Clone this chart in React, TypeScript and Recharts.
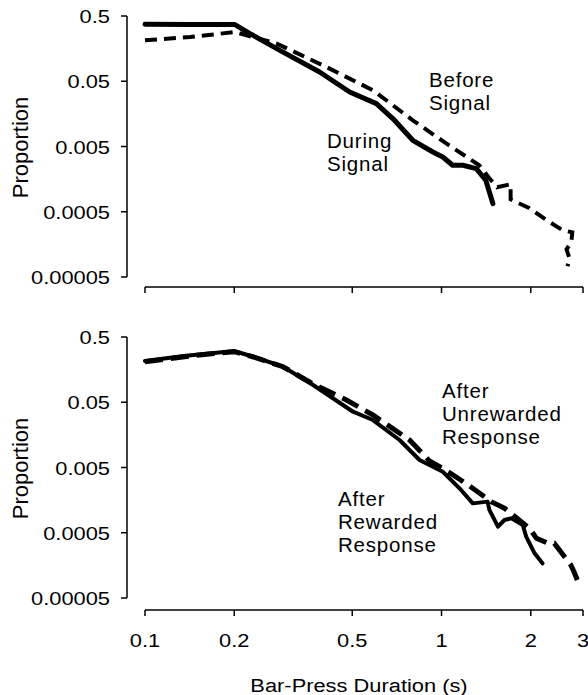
import { LineChart, Line, XAxis, YAxis } from "recharts";

const FONT = '"Liberation Sans", Arial, sans-serif';

const X_TICKS = [0.1, 0.2, 0.5, 1, 2, 3];
const X_TICK_LABELS = ["0.1", "0.2", "0.5", "1", "2", "3"];
const Y_TICKS = [0.5, 0.05, 0.005, 0.0005, 0.00005];
const Y_TICK_LABELS = ["0.5", "0.05", "0.005", "0.0005", "0.00005"];

// top panel - during signal (solid)
const duringX = [0.1, 0.142, 0.201, 0.226, 0.285, 0.388, 0.49, 0.603, 0.685, 0.8, 0.935, 1.01, 1.09, 1.18, 1.31, 1.41, 1.49];
const duringY = [0.373, 0.369, 0.369, 0.269, 0.149, 0.0693, 0.0342, 0.0227, 0.0134, 0.00622, 0.00412, 0.00345, 0.00258, 0.00258, 0.00229, 0.00152, 0.000667];

// top panel - before signal (dashed)
const beforeX = [0.1, 0.142, 0.201, 0.278, 0.409, 0.588, 0.8, 1.04, 1.34, 1.45, 1.54, 1.71, 1.71, 1.98, 2.24, 2.56, 2.76, 2.74, 2.64, 2.7, 2.66];
const beforeY = [0.212, 0.238, 0.284, 0.189, 0.0827, 0.0363, 0.0126, 0.00553, 0.00258, 0.00163, 0.00119, 0.00132, 0.000776, 0.000565, 0.000383, 0.00026, 0.000242, 0.00017, 0.000133, 0.0000968, 0.000073];

// bottom panel - after rewarded response (solid)
const rewardedX = [0.1, 0.135, 0.2, 0.232, 0.292, 0.369, 0.503, 0.587, 0.722, 0.843, 0.935, 1.01, 1.15, 1.275, 1.43, 1.45, 1.55, 1.63, 1.72, 1.88, 1.93, 2.06, 2.19];
const rewardedY = [0.214, 0.256, 0.305, 0.249, 0.175, 0.0919, 0.0358, 0.0267, 0.0132, 0.00652, 0.00514, 0.00431, 0.0024, 0.00141, 0.0015, 0.00112, 0.00062, 0.000784, 0.000832, 0.000658, 0.000435, 0.000242, 0.00017];

// bottom panel - after unrewarded response (dashed)
const unrewardedX = [0.1, 0.142, 0.2, 0.232, 0.292, 0.369, 0.478, 0.587, 0.78, 0.911, 1.01, 1.23, 1.47, 1.63, 1.98, 2.09, 2.28, 2.4, 2.73, 2.8, 2.87];
const unrewardedY = [0.209, 0.256, 0.298, 0.247, 0.175, 0.0952, 0.0541, 0.0319, 0.0132, 0.00629, 0.00486, 0.0027, 0.0015, 0.00119, 0.000585, 0.000411, 0.000348, 0.000345, 0.00016, 0.000125, 0.0000944];

const zip = (xs: number[], ys: number[]) => xs.map((x, i) => ({ x, y: ys[i] }));

// axes are drawn detached from the plot (R style): y axis 18px left, x axis ~10px down
const Y_SHIFT = 18;

function YTick({ x, y, payload }: any) {
  const i = Y_TICKS.indexOf(payload.value);
  const label = i >= 0 ? Y_TICK_LABELS[i] : String(payload.value);
  return (
    <text
      transform={`translate(${x - Y_SHIFT},${y}) scale(1.15,1)`}
      textAnchor="end"
      dy={7}
      fontSize={19}
      fontFamily={FONT}
      fill="#000"
    >
      {label}
    </text>
  );
}

function XTick({ x, y, payload }: any) {
  const i = X_TICKS.indexOf(payload.value);
  const label = i >= 0 ? X_TICK_LABELS[i] : String(payload.value);
  return (
    <text
      transform={`translate(${x},${y + 12}) scale(1.15,1)`}
      textAnchor="middle"
      dy={29}
      fontSize={19}
      fontFamily={FONT}
      fill="#000"
    >
      {label}
    </text>
  );
}

const NoTick = () => <g />;

const yTitle = (props: any) => {
  const vb = props.viewBox || {};
  const cy = (vb.y ?? 16) + (vb.height ?? 261) / 2;
  return (
    <text
      transform={`translate(28,${cy + 1}) rotate(-90)`}
      textAnchor="middle"
      fontSize={22}
      fontFamily={FONT}
      fill="#000"
    >
      Proportion
    </text>
  );
};

const xTitle = () => (
  <text
    transform="translate(359,371) scale(1.15,1)"
    textAnchor="middle"
    fontSize={19}
    fontFamily={FONT}
    fill="#000"
  >
    Bar-Press Duration (s)
  </text>
);

const css = `
.panel .recharts-yAxis .recharts-cartesian-axis-line,
.panel .recharts-yAxis .recharts-cartesian-axis-ticks { transform: translateX(-${Y_SHIFT}px); }
.panel-top .recharts-xAxis .recharts-cartesian-axis-line,
.panel-top .recharts-xAxis .recharts-cartesian-axis-ticks { transform: translateY(10px); }
.panel-bottom .recharts-xAxis .recharts-cartesian-axis-line,
.panel-bottom .recharts-xAxis .recharts-cartesian-axis-ticks { transform: translateY(12px); }
`;

const note: React.CSSProperties = {
  position: "absolute",
  fontFamily: FONT,
  fontSize: 20.5,
  letterSpacing: 0.8,
  lineHeight: "23px",
  color: "#000",
  whiteSpace: "nowrap",
};

const axisLine = { stroke: "#000", strokeWidth: 1.5 };

export default function App() {
  return (
    <div style={{ position: "absolute", left: 0, top: 0, width: 588, height: 695, background: "#fff" }}>
      <style>{css}</style>

      <div className="panel panel-top" style={{ position: "absolute", left: 0, top: 0 }}>
        <LineChart width={588} height={300} margin={{ top: 16, right: 5, bottom: 3, left: 0 }}>
          <XAxis
            dataKey="x"
            type="number"
            scale="log"
            domain={[0.1, 3]}
            ticks={X_TICKS}
            interval={0}
            height={20}
            tick={NoTick}
            tickSize={6}
            axisLine={axisLine}
            tickLine={axisLine}
          />
          <YAxis
            type="number"
            scale="log"
            domain={[0.00005, 0.5]}
            ticks={Y_TICKS}
            interval={0}
            width={145}
            tick={YTick}
            tickSize={6}
            tickMargin={11}
            axisLine={axisLine}
            tickLine={axisLine}
            label={{ content: yTitle }}
          />
          <Line
            data={zip(beforeX, beforeY)}
            dataKey="y"
            type="linear"
            stroke="#000"
            strokeWidth={4}
            strokeDasharray="12 7"
            dot={false}
            isAnimationActive={false}
          />
          <Line
            data={zip(duringX, duringY)}
            dataKey="y"
            type="linear"
            stroke="#000"
            strokeWidth={5}
            strokeLinejoin="round"
            strokeLinecap="round"
            dot={false}
            isAnimationActive={false}
          />
        </LineChart>
      </div>

      <div className="panel panel-bottom" style={{ position: "absolute", left: 0, top: 321 }}>
        <LineChart width={588} height={374} margin={{ top: 16, right: 5, bottom: 0, left: 0 }}>
          <XAxis
            dataKey="x"
            type="number"
            scale="log"
            domain={[0.1, 3]}
            ticks={X_TICKS}
            interval={0}
            height={97}
            tick={XTick}
            tickSize={6}
            tickMargin={2}
            axisLine={axisLine}
            tickLine={axisLine}
            label={{ content: xTitle }}
          />
          <YAxis
            type="number"
            scale="log"
            domain={[0.00005, 0.5]}
            ticks={Y_TICKS}
            interval={0}
            width={145}
            tick={YTick}
            tickSize={6}
            tickMargin={11}
            axisLine={axisLine}
            tickLine={axisLine}
            label={{ content: yTitle }}
          />
          <Line
            data={zip(unrewardedX, unrewardedY)}
            dataKey="y"
            type="linear"
            stroke="#000"
            strokeWidth={5}
            strokeDasharray="18 8"
            dot={false}
            isAnimationActive={false}
          />
          <Line
            data={zip(rewardedX, rewardedY)}
            dataKey="y"
            type="linear"
            stroke="#000"
            strokeWidth={4}
            strokeLinejoin="round"
            strokeLinecap="round"
            dot={false}
            isAnimationActive={false}
          />
        </LineChart>
      </div>

      <div style={{ ...note, left: 429, top: 68 }}>Before<br />Signal</div>
      <div style={{ ...note, left: 327, top: 129 }}>During<br />Signal</div>
      <div style={{ ...note, left: 442, top: 379 }}>After<br />Unrewarded<br />Response</div>
      <div style={{ ...note, left: 338, top: 487 }}>After<br />Rewarded<br />Response</div>
    </div>
  );
}
